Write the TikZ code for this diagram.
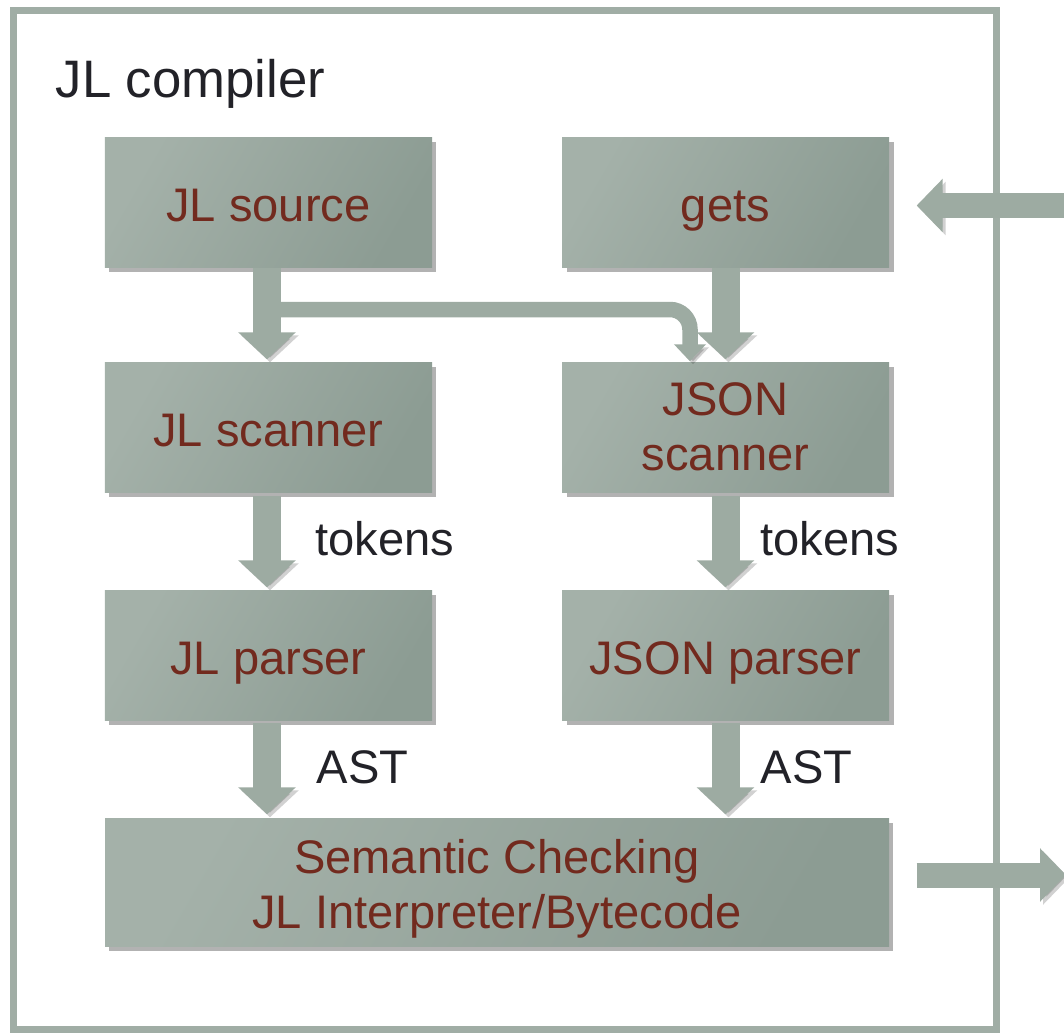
\documentclass[tikz,border=0pt]{standalone}
\usepackage{fontspec}
\setmainfont{Liberation Sans}
\usetikzlibrary{arrows.meta,shadows,positioning}

\definecolor{boxlight}{HTML}{A4B1A9}
\definecolor{boxdark}{HTML}{8C9C93}
\definecolor{arrowc}{HTML}{9DABA2}
\definecolor{framec}{HTML}{A0ADA5}
\definecolor{boxtext}{HTML}{722A1E}
\definecolor{lbltext}{HTML}{222228}

\begin{document}
\begin{tikzpicture}[
    stage/.style={rectangle,minimum width=3.27cm,minimum height=1.30cm,inner sep=2pt,
        left color=boxlight,middle color=boxlight,right color=boxdark,shading angle=60,
        drop shadow={shadow xshift=0.045cm,shadow yshift=-0.045cm,opacity=0.3,fill=black},
        text=boxtext,align=center,font=\fontsize{13.4pt}{15.5pt}\selectfont},
    lone/.style={stage,text height=0.48cm,text depth=0.1cm},
    lbl/.style={text=lbltext,inner sep=0pt,font=\fontsize{13.4pt}{15.5pt}\selectfont},
    shade/.style={preaction={draw=black,opacity=0.18,transform canvas={xshift=0.03cm,yshift=-0.03cm}}},
    blk/.style={shade,draw=arrowc,line width=0.28cm,-{Triangle[width=0.56cm,length=0.27cm]}},
    thin/.style={shade,draw=arrowc,line width=0.155cm,-{Triangle[width=0.31cm,length=0.17cm]}},
    side/.style={shade,draw=arrowc,line width=0.25cm,-{Triangle[width=0.52cm,length=0.26cm]}}]
    \useasboundingbox (0,0) rectangle (10.64,10.32);

    % frame round the compiler
    \draw[framec,line width=0.07cm,drop shadow={shadow xshift=0.04cm,shadow yshift=-0.04cm,opacity=0.3,fill=black},fill=white]
        (0.135,0.03) rectangle (9.965,10.22);
    \node[lbl,anchor=base west,font=\fontsize{15pt}{17pt}\selectfont] (title) at (0.55,9.35) {JL compiler};

    % stages
    \node[lone] (src)     at (2.685,8.30) {JL source};
    \node[lone] (gets)    at (7.255,8.30) {gets};
    \node[lone] (jlscan)  at (2.685,6.05) {JL scanner};
    \node[stage] (jsscan) at (7.255,6.05) {JSON\\scanner};
    \node[lone] (jlparse) at (2.685,3.77) {JL parser};
    \node[lone] (jsparse) at (7.255,3.77) {JSON parser};
    \node[stage,minimum width=7.84cm,minimum height=1.28cm] (sem) at (4.97,1.50)
        {\rule{0pt}{0.48cm}Semantic Checking\\JL Interpreter/Bytecode};

    % labels on the arrows
    \node[lbl,anchor=base west] (tok1) at (3.15,4.77) {tokens};
    \node[lbl,anchor=base west] (tok2) at (7.60,4.77) {tokens};
    \node[lbl,anchor=base west] (ast1) at (3.16,2.49) {AST};
    \node[lbl,anchor=base west] (ast2) at (7.60,2.49) {AST};

    \coordinate (fork) at (2.67,7.225);
    \coordinate (input) at (10.70,8.265);
    \coordinate (output) at (10.66,1.57);

    % source also feeds the JSON scanner
    \draw[thin,rounded corners=0.2cm] (fork) -| ([xshift=-0.355cm]jsscan.north);

    \draw[blk,shorten >=0.02cm] ([xshift=-0.015cm]src.south) -- ([xshift=-0.015cm]jlscan.north);
    \draw[blk,shorten >=0.02cm] (gets.south) -- (jsscan.north);
    \draw[blk,shorten <=0.03cm,shorten >=0.02cm] ([xshift=-0.015cm]jlscan.south) -- ([xshift=-0.015cm]jlparse.north);
    \draw[blk,shorten <=0.03cm,shorten >=0.02cm] (jsscan.south) -- (jsparse.north);
    \draw[blk,shorten <=0.02cm,shorten >=0.03cm] ([xshift=-0.015cm]jlparse.south) -- ([xshift=-0.015cm]sem.north -| jlparse.south);
    \draw[blk,shorten <=0.02cm,shorten >=0.03cm] (jsparse.south) -- (sem.north -| jsparse.south);

    % in and out of the compiler
    \draw[side,shorten >=0.27cm] (input) -- (input -| gets.east);
    \draw[side,shorten <=0.27cm] ([yshift=0.07cm]sem.east) -- (output);
\end{tikzpicture}
\end{document}
